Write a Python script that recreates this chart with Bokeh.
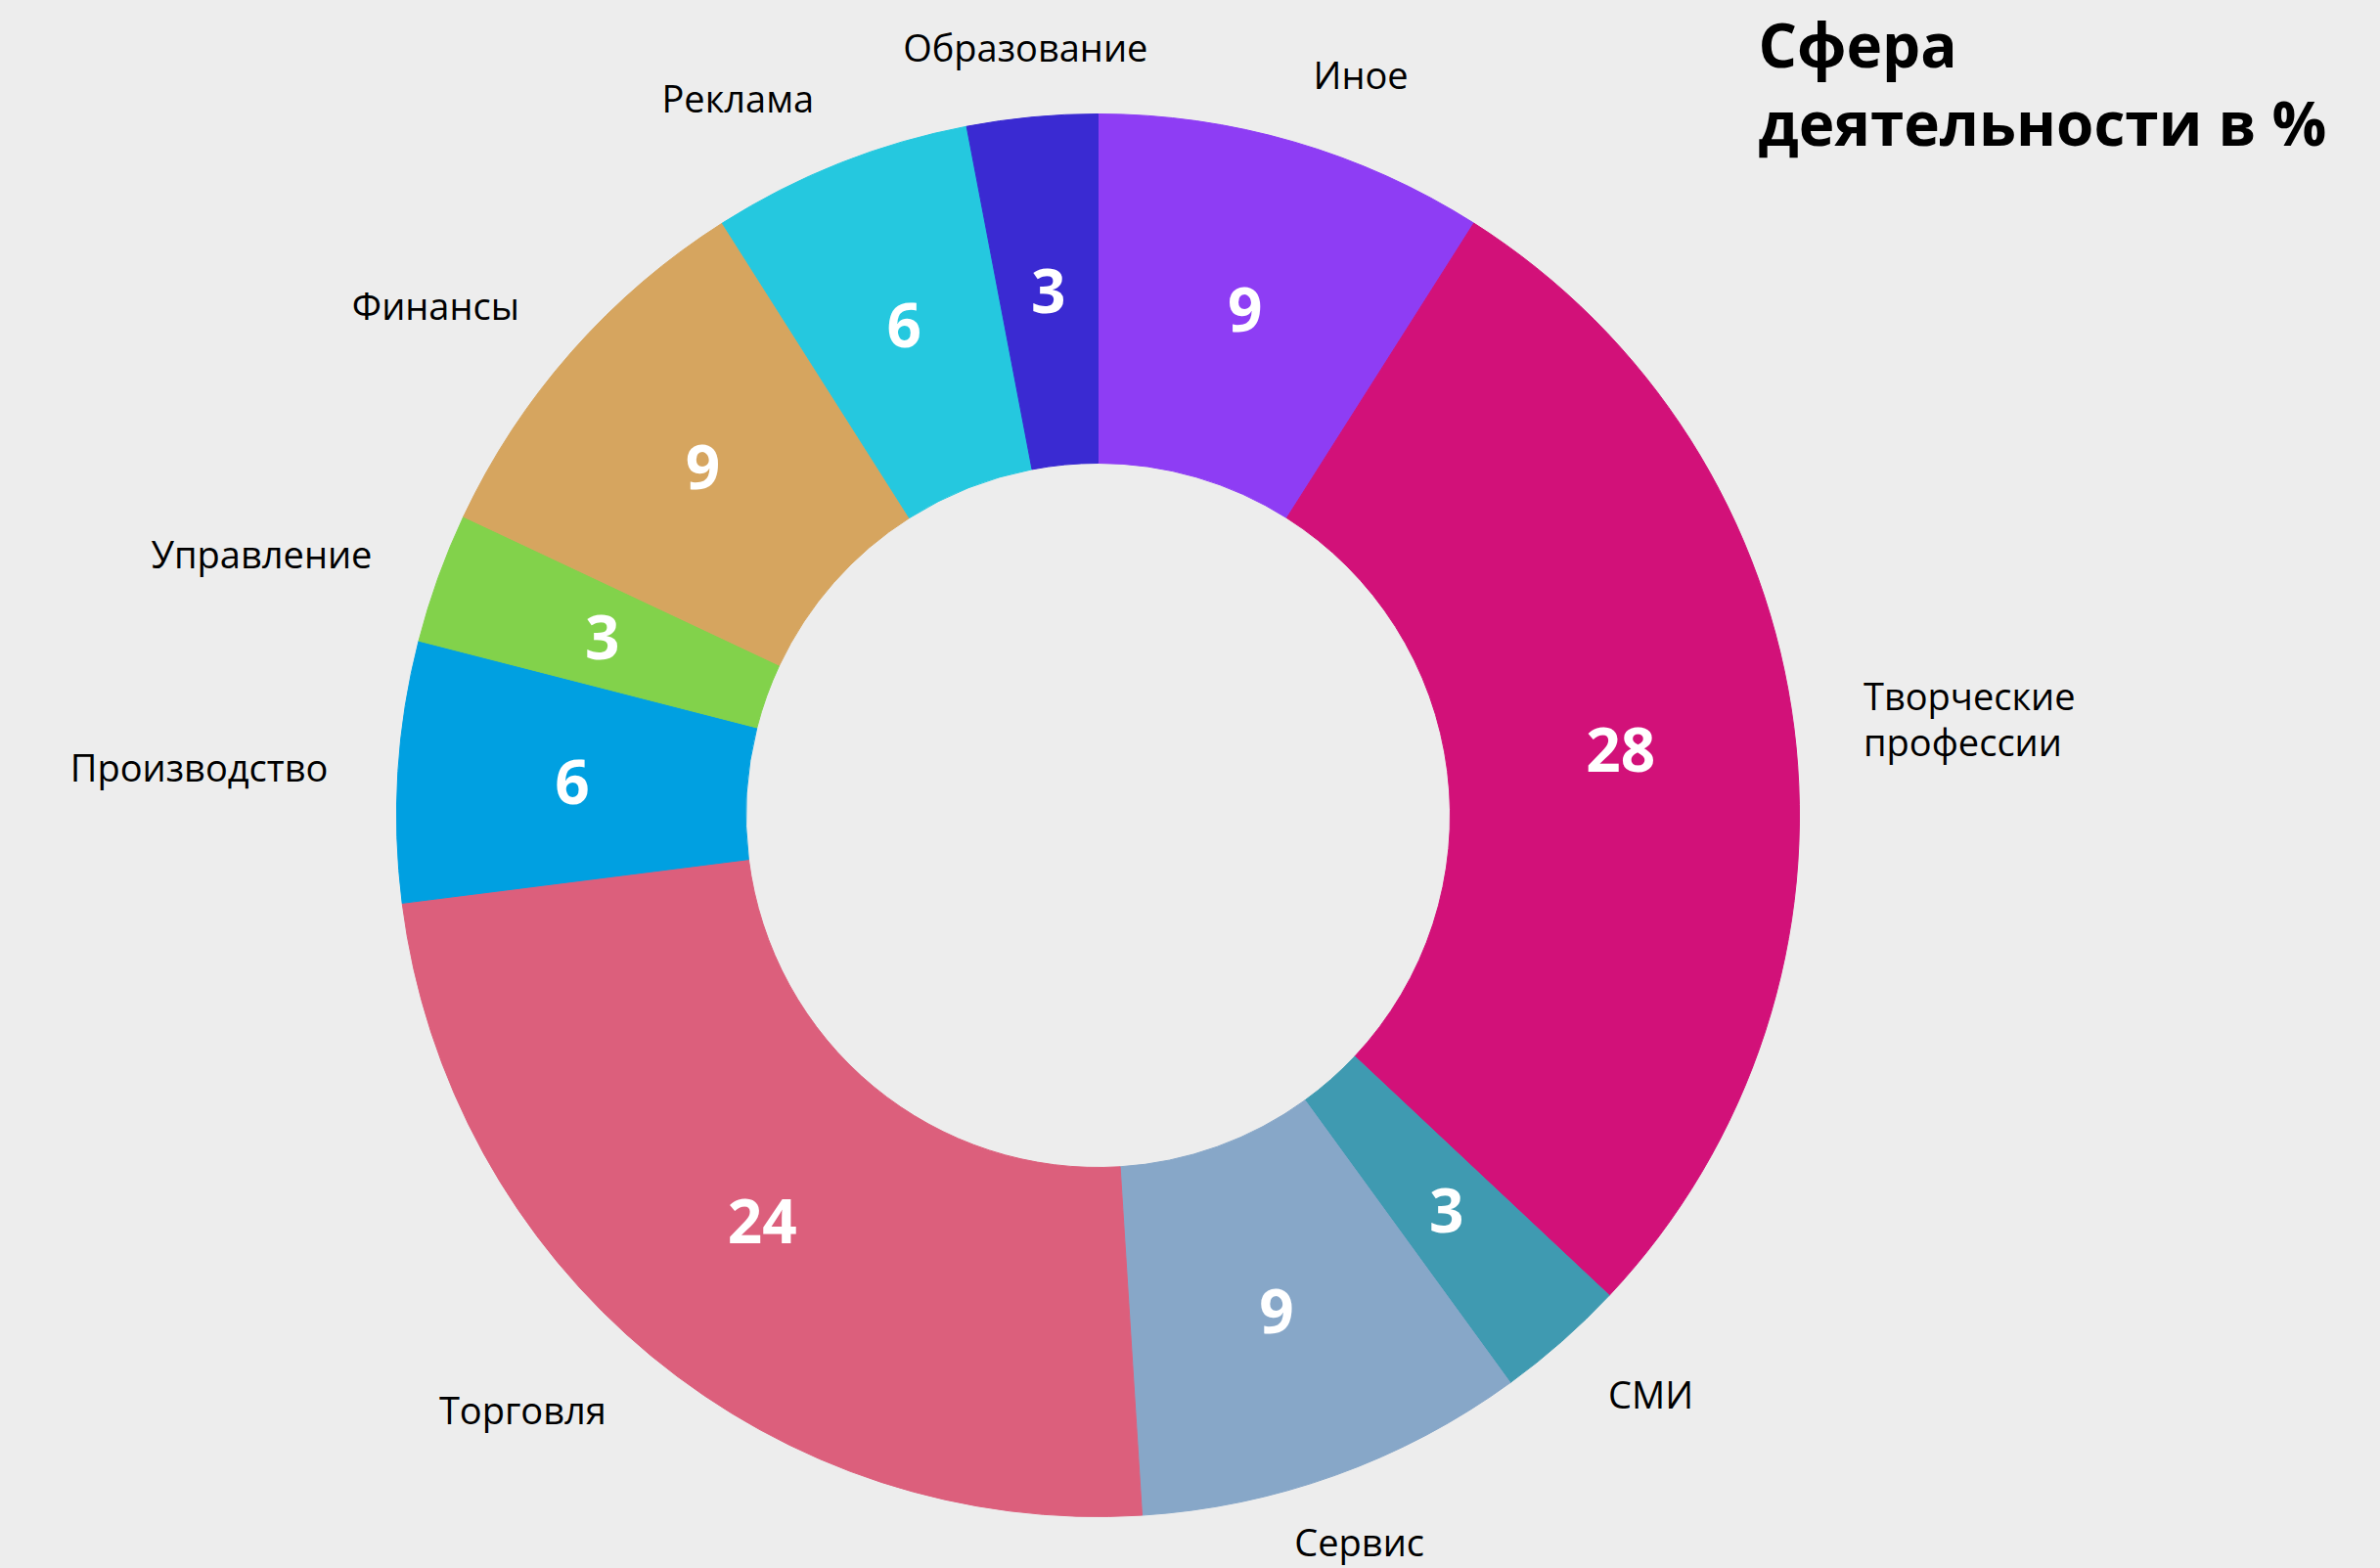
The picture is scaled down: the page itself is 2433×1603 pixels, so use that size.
import math
from bokeh.plotting import figure
from bokeh.models import Range1d, ColumnDataSource
from bokeh.core.properties import value
from bokeh.embed import file_html
from bokeh.resources import INLINE

# ---- data ----
categories = ["Иное", "Творческие\nпрофессии", "СМИ", "Сервис", "Торговля",
              "Производство", "Управление", "Финансы", "Реклама", "Образование"]
values = [9, 28, 3, 9, 24, 6, 3, 9, 6, 3]
colors = ["#8e3df4", "#d21179", "#3f9ab1", "#87a7c8", "#dc5f7c",
          "#00a0e1", "#82d24b", "#d6a55f", "#25c8df", "#3a2ad2"]
title_lines = ["Сфера", "деятельности в %"]

# ---- layout ----
W, H = 2433, 1603
CX, CY = 1122, 833          # pie centre in pixels from top-left
RO, RI = 717, 360
RL = 1.10 * RO
BG = "#ededed"
FONT = "Open Sans"

total = float(sum(values))
starts, ends, mids = [], [], []
acc = 0.0
for v in values:
    starts.append(acc / total)
    acc += v
    ends.append(acc / total)
    mids.append((acc - v / 2.0) / total)

wedges = ColumnDataSource(dict(
    start=[math.pi / 2 - 2 * math.pi * s for s in starts],
    end=[math.pi / 2 - 2 * math.pi * e for e in ends],
    color=colors,
))

rm = (RI + RO) / 2.0
num_src = ColumnDataSource(dict(
    x=[rm * math.sin(2 * math.pi * m) for m in mids],
    y=[rm * math.cos(2 * math.pi * m) for m in mids],
    t=[str(v) for v in values],
))

lab = {"left": dict(x=[], y=[], t=[]), "right": dict(x=[], y=[], t=[]), "center": dict(x=[], y=[], t=[])}
for c, m in zip(categories, mids):
    s, co = math.sin(2 * math.pi * m), math.cos(2 * math.pi * m)
    thr = 0.25 if co > 0 else 0.35
    if s > thr:
        k = "left"
    elif s < -thr:
        k = "right"
    else:
        k = "center"
    lab[k]["x"].append(RL * s)
    lab[k]["y"].append(RL * co)
    lab[k]["t"].append(c)

p = figure(width=W, height=H, output_backend="svg", toolbar_location=None,
           x_range=Range1d(-CX, W - CX), y_range=Range1d(-(H - CY), CY),
           min_border=0, background_fill_color=BG, border_fill_color=BG,
           outline_line_color=None)
p.axis.visible = False
p.grid.visible = False

p.annular_wedge(x=0, y=0, inner_radius=RI, outer_radius=RO,
                start_angle="start", end_angle="end", direction="clock",
                fill_color="color", line_color="color", line_width=1, source=wedges)

p.text(x="x", y="y", text="t", source=num_src, text_color="white",
       text_font=value(FONT), text_font_style="bold", text_font_size="62px",
       text_align="center", text_baseline="middle")

for k, d in lab.items():
    if d["t"]:
        p.text(x="x", y="y", text="t", source=ColumnDataSource(d), text_color="black",
               text_font=value(FONT), text_font_size="38px",
               text_align=k, text_baseline="middle", text_line_height=0.91)

# title
tx = 1797 - CX
p.text(x=[tx, tx], y=[CY - 44, CY - 124], text=title_lines, text_color="black",
       text_font=value(FONT), text_font_style="bold", text_font_size="62px",
       text_align="left", text_baseline="alphabetic")

html = file_html(p, INLINE)
html = html.replace("</head>", "<style>body{background:%s;}</style></head>" % BG, 1)
open("out.html", "w").write(html)
